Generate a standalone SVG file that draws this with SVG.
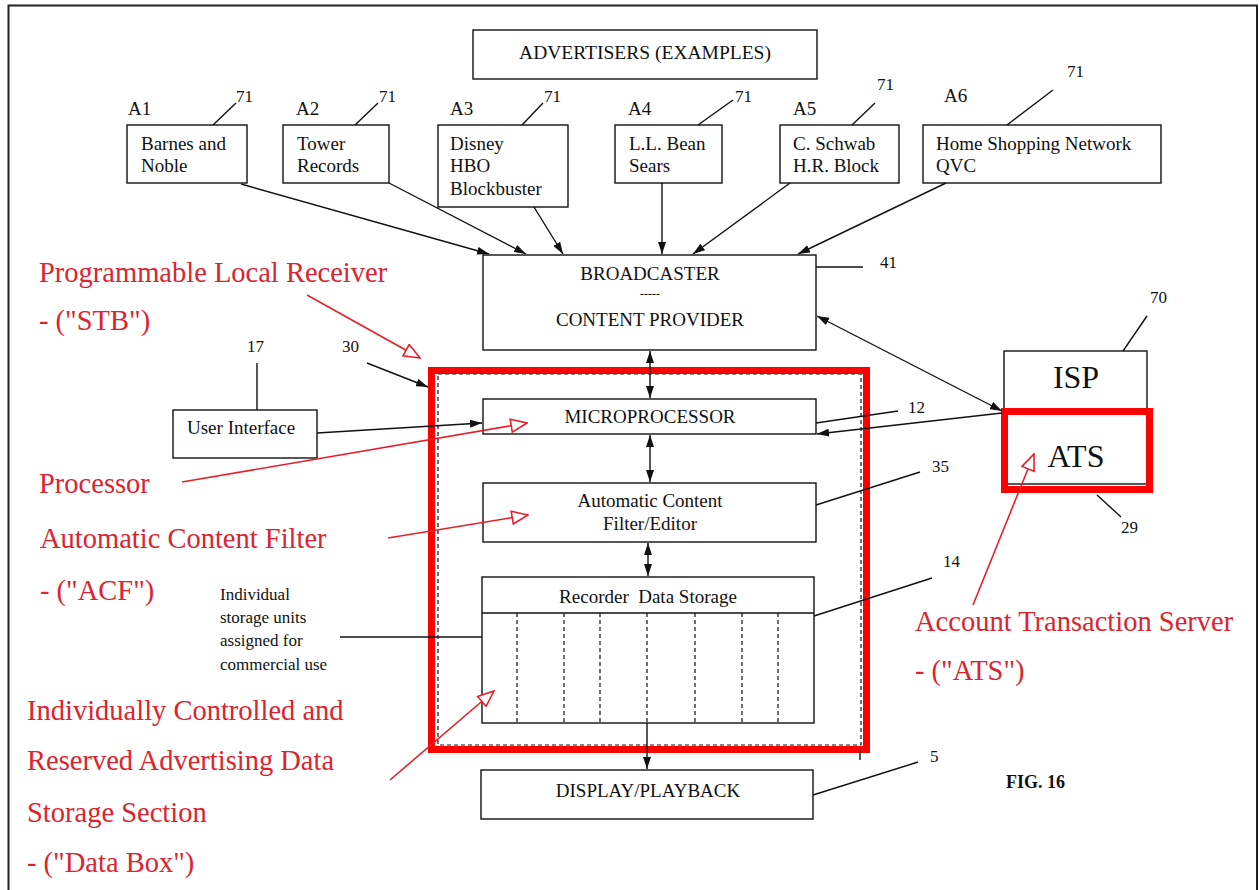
<svg xmlns="http://www.w3.org/2000/svg" width="1259" height="890" viewBox="0 0 1259 890">
<style>
.t{font-family:"Liberation Serif","Times New Roman",serif;fill:#111;font-size:19px}
.n{font-family:"Liberation Serif","Times New Roman",serif;fill:#111;font-size:17px}
.r{font-family:"Liberation Serif","Times New Roman",serif;fill:#dc2430;font-size:28.5px}
.box{fill:#fff;stroke:#111;stroke-width:1.4}
.ln{fill:none;stroke:#111;stroke-width:1.4}
.rl{fill:none;stroke:#e5202a;stroke-width:1.6}
.dash{fill:none;stroke:#111;stroke-width:1.2;stroke-dasharray:4 3}
.c{text-anchor:middle}
</style>
<defs>
<marker id="ah" viewBox="0 0 12 8" refX="12" refY="4" markerWidth="12" markerHeight="8" markerUnits="userSpaceOnUse" orient="auto-start-reverse">
<path d="M0,0 L12,4 L0,8 z" fill="#111"/>
</marker>
<marker id="rh" viewBox="-1 -1 18 15" refX="16" refY="6.5" markerWidth="18" markerHeight="15" markerUnits="userSpaceOnUse" orient="auto">
<path d="M0,0 L16,6.5 L0,13 z" fill="#fff" stroke="#e5202a" stroke-width="1.6"/>
</marker>
</defs>
<rect width="1259" height="890" fill="#fff"/>
<path d="M8.5,890 V5.5 H1257 V890" fill="none" stroke="#222" stroke-width="2"/>

<g id="advertisers">
<rect class="box" x="473" y="30" width="344" height="49"/>
<text class="t c" x="645" y="59" style="font-size:19.5px">ADVERTISERS (EXAMPLES)</text>
</g>
<g id="a1">
<rect class="box" x="127" y="125" width="120" height="58"/>
<text class="t" x="141" y="150">Barnes and</text>
<text class="t" x="141" y="172">Noble</text>
<text class="t" x="128" y="115">A1</text>
<line class="ln" x1="213" y1="125" x2="236" y2="103"/>
<text class="n" x="236" y="102">71</text>
</g>
<g id="a2">
<rect class="box" x="283" y="125" width="106" height="58"/>
<text class="t" x="297" y="150">Tower</text>
<text class="t" x="297" y="172">Records</text>
<text class="t" x="296" y="115">A2</text>
<line class="ln" x1="355" y1="125" x2="378" y2="103"/>
<text class="n" x="379" y="102">71</text>
</g>
<g id="a3">
<rect class="box" x="438" y="125" width="130" height="82"/>
<text class="t" x="450" y="150">Disney</text>
<text class="t" x="450" y="172">HBO</text>
<text class="t" x="450" y="195">Blockbuster</text>
<text class="t" x="450" y="115">A3</text>
<line class="ln" x1="522" y1="125" x2="543" y2="103"/>
<text class="n" x="544" y="102">71</text>
</g>
<g id="a4">
<rect class="box" x="615" y="125" width="107" height="58"/>
<text class="t" x="629" y="150">L.L. Bean</text>
<text class="t" x="629" y="172">Sears</text>
<text class="t" x="628" y="115">A4</text>
<line class="ln" x1="698" y1="125" x2="733" y2="100"/>
<text class="n" x="735" y="102">71</text>
</g>
<g id="a5">
<rect class="box" x="780" y="125" width="119" height="58"/>
<text class="t" x="793" y="150">C. Schwab</text>
<text class="t" x="793" y="172">H.R. Block</text>
<text class="t" x="793" y="115">A5</text>
<line class="ln" x1="852" y1="125" x2="875" y2="103"/>
<text class="n" x="877" y="90">71</text>
</g>
<g id="a6">
<rect class="box" x="923" y="125" width="238" height="58"/>
<text class="t" x="936" y="150">Home Shopping Network</text>
<text class="t" x="936" y="172">QVC</text>
<text class="t" x="944" y="102">A6</text>
<line class="ln" x1="1007" y1="125" x2="1053" y2="90"/>
<text class="n" x="1067" y="77">71</text>
</g>

<g id="broadcaster">
<rect class="box" x="483" y="255" width="333" height="95"/>
<text class="t c" x="650" y="280">BROADCASTER</text>
<text class="t c" x="650" y="298" style="font-size:12px">-----</text>
<text class="t c" x="650" y="326">CONTENT PROVIDER</text>
<line class="ln" x1="816" y1="267" x2="863" y2="267"/>
<text class="n" x="880" y="268">41</text>
</g>

<g id="stb">
<rect class="dash" x="438" y="374" width="423" height="371"/>
<rect x="431.5" y="370.5" width="435" height="379" fill="none" stroke="#ff0000" stroke-width="7"/>
<line class="ln" x1="860" y1="750" x2="860" y2="760"/>
</g>

<g id="microprocessor">
<rect class="box" x="483" y="399" width="333" height="35"/>
<text class="t c" x="650" y="423">MICROPROCESSOR</text>
<line class="ln" x1="816" y1="423" x2="898" y2="411"/>
<text class="n" x="908" y="413">12</text>
</g>

<g id="acf">
<rect class="box" x="483" y="483" width="333" height="59"/>
<text class="t c" x="650" y="507">Automatic Content</text>
<text class="t c" x="650" y="530">Filter/Editor</text>
<line class="ln" x1="816" y1="505" x2="920" y2="472"/>
<text class="n" x="932" y="472">35</text>
</g>

<g id="recorder">
<rect class="box" x="482" y="577" width="332" height="146"/>
<line class="ln" x1="482" y1="613" x2="814" y2="613"/>
<text class="t c" x="648" y="603" style="white-space:pre">Recorder  Data Storage</text>
<path class="dash" d="M517,613V723 M564,613V723 M600,613V723 M647,613V723 M695,613V723 M742,613V723 M778,613V723"/>
<line class="ln" x1="814" y1="616" x2="932" y2="578"/>
<text class="n" x="943" y="567">14</text>
</g>

<g id="storage-note">
<text class="t" x="220" y="600" style="font-size:17px">Individual</text>
<text class="t" x="220" y="623" style="font-size:17px">storage units</text>
<text class="t" x="220" y="646" style="font-size:17px">assigned for</text>
<text class="t" x="220" y="670" style="font-size:17px">commercial use</text>
<line class="ln" x1="340" y1="637" x2="482" y2="637"/>
</g>

<g id="display">
<rect class="box" x="481" y="770" width="332" height="49"/>
<text class="t c" x="648" y="797">DISPLAY/PLAYBACK</text>
<line class="ln" x1="813" y1="795" x2="918" y2="762"/>
<text class="n" x="930" y="762">5</text>
</g>

<g id="user-interface">
<rect class="box" x="173" y="410" width="144" height="48"/>
<text class="t" x="187" y="434">User Interface</text>
<line class="ln" x1="257" y1="363" x2="257" y2="410"/>
<text class="n" x="247" y="352">17</text>
<text class="n" x="342" y="352">30</text>
</g>

<g id="isp">
<rect class="box" x="1004" y="351" width="143" height="133"/>
<text class="t c" x="1076" y="388" style="font-size:32px">ISP</text>
<line class="ln" x1="1123" y1="351" x2="1147" y2="316"/>
<text class="n" x="1150" y="303">70</text>
</g>

<g id="ats">
<rect x="1004.5" y="411.5" width="145" height="78" fill="none" stroke="#ff0000" stroke-width="7"/>
<text class="t c" x="1076" y="467" style="font-size:32px">ATS</text>
<line class="ln" x1="1097" y1="495" x2="1121" y2="517"/>
<text class="n" x="1121" y="533">29</text>
</g>

<g id="fig">
<text class="t" x="1006" y="788" style="font-weight:bold;font-size:18px">FIG. 16</text>
</g>

<g id="connectors">
<line class="ln" x1="241" y1="184" x2="489" y2="254" marker-end="url(#ah)"/>
<line class="ln" x1="389" y1="183" x2="526" y2="254" marker-end="url(#ah)"/>
<line class="ln" x1="534" y1="207" x2="563" y2="254" marker-end="url(#ah)"/>
<line class="ln" x1="662" y1="183" x2="662" y2="254" marker-end="url(#ah)"/>
<line class="ln" x1="790" y1="183" x2="693" y2="254" marker-end="url(#ah)"/>
<line class="ln" x1="946" y1="183" x2="798" y2="254" marker-end="url(#ah)"/>
<line class="ln" x1="650" y1="351" x2="650" y2="398" marker-start="url(#ah)" marker-end="url(#ah)"/>
<line class="ln" x1="650" y1="435" x2="650" y2="482" marker-start="url(#ah)" marker-end="url(#ah)"/>
<line class="ln" x1="648" y1="543" x2="648" y2="576" marker-start="url(#ah)" marker-end="url(#ah)"/>
<line class="ln" x1="647" y1="723" x2="647" y2="769" marker-end="url(#ah)"/>
<line class="ln" x1="317" y1="433" x2="482" y2="423" marker-end="url(#ah)"/>
<line class="ln" x1="367" y1="363" x2="428" y2="387" marker-end="url(#ah)"/>
<line class="ln" x1="817" y1="316" x2="1002" y2="411" marker-start="url(#ah)" marker-end="url(#ah)"/>
<line class="ln" x1="1002" y1="413" x2="817" y2="434" marker-end="url(#ah)"/>
</g>

<g id="annotations">
<text class="r" x="39" y="282">Programmable Local Receiver</text>
<text class="r" x="39" y="330">- ("STB")</text>
<line class="rl" x1="307" y1="295" x2="420" y2="358" marker-end="url(#rh)"/>
<text class="r" x="39" y="493">Processor</text>
<line class="rl" x1="182" y1="482" x2="527" y2="423" marker-end="url(#rh)"/>
<text class="r" x="40" y="548">Automatic Content Filter</text>
<text class="r" x="40" y="600">- ("ACF")</text>
<line class="rl" x1="388" y1="538" x2="528" y2="515" marker-end="url(#rh)"/>
<text class="r" x="27" y="720">Individually Controlled and</text>
<text class="r" x="27" y="770">Reserved Advertising Data</text>
<text class="r" x="27" y="822">Storage Section</text>
<text class="r" x="27" y="872">- ("Data Box")</text>
<line class="rl" x1="390" y1="780" x2="494" y2="691" marker-end="url(#rh)"/>
<text class="r" x="915" y="631">Account Transaction Server</text>
<text class="r" x="915" y="680">- ("ATS")</text>
<line class="rl" x1="973" y1="605" x2="1034" y2="454" marker-end="url(#rh)"/>
</g>
</svg>
